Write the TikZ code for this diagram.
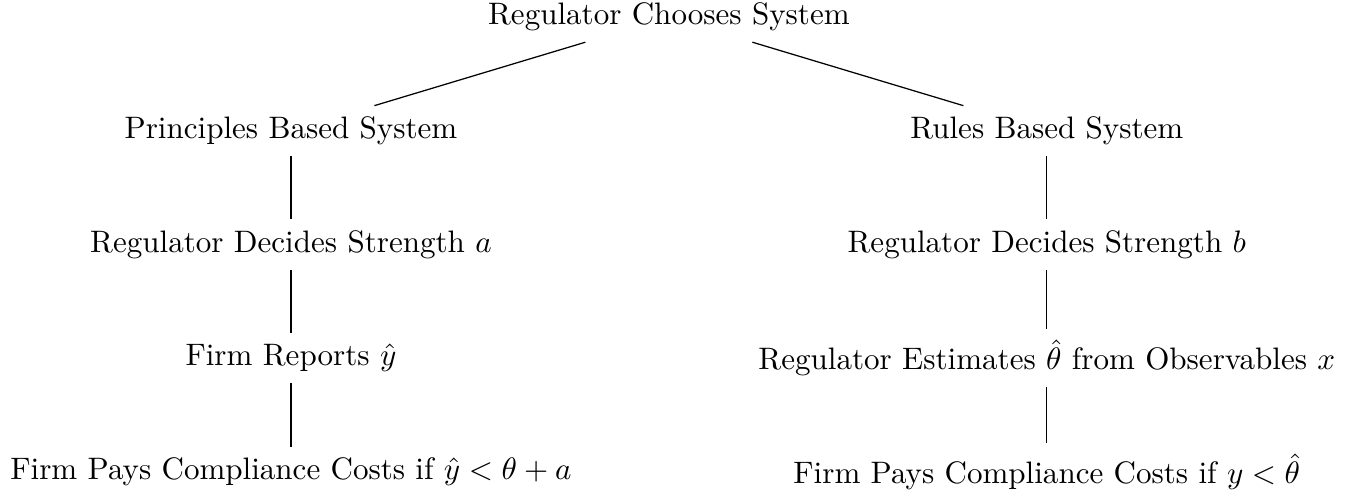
\documentclass[tikz,border=0pt]{standalone}
\begin{document}
\begin{tikzpicture}[
    level distance=36.6pt,
    level 1/.style={sibling distance=243.4pt}
    ]
	\useasboundingbox (-215.4pt,-153.7pt) rectangle (223.2pt,5.5pt);
	\node (root) {Regulator Chooses System}
		child{node (prin) {Principles Based System}
			child{node (prinstr) {Regulator Decides Strength $a$}
				child{node (report) {Firm Reports $\hat{y}$}
					child{node (prinpay) {Firm Pays Compliance Costs if $\hat{y} < \theta + a$}}
				}
			}
		}
		child{node (rules) {Rules Based System}
			child{node (rulestr) {Regulator Decides Strength $b$}
				child{node (estim) {Regulator Estimates $\hat{\theta}$ from Observables $x$}
					child{node (rulepay) {Firm Pays Compliance Costs if $y < \hat{\theta}$}}
				}
			}
		}
;
  \end{tikzpicture}
\end{document}
